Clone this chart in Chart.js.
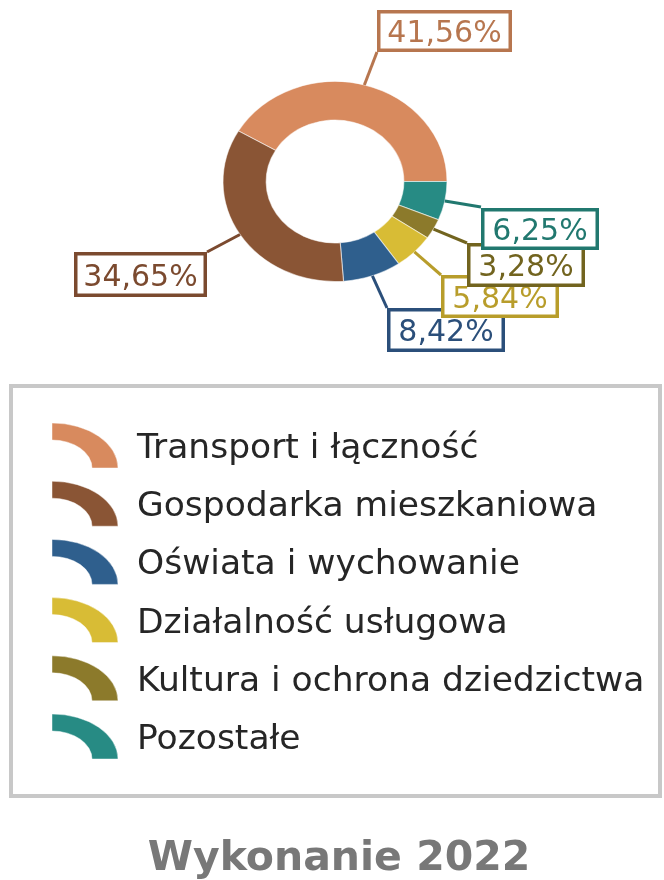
<!DOCTYPE html>
<html lang="pl">
<head>
<meta charset="utf-8">
<title>Wykonanie 2022</title>
<script src="https://cdn.jsdelivr.net/npm/chart.js@4.4.1/dist/chart.umd.min.js"></script>
<style>
  html, body { margin: 0; padding: 0; background: #ffffff; }
  #chart { display: block; }
</style>
</head>
<body>
<canvas id="chart" width="664" height="880"></canvas>
<script>
// Struktura wydatków majątkowych
const categories = [
    "Transport i łączność",
    "Gospodarka mieszkaniowa",
    "Oświata i wychowanie",
    "Działalność usługowa",
    "Kultura i ochrona dziedzictwa",
    "Pozostałe",
];
const shares = [41.56, 34.65, 8.42, 5.84, 3.28, 6.25];
const sliceColors = ["#D88A5E", "#8A5535", "#2F5F8D", "#D8BC35", "#8C7A2B", "#278B84"];
const labelColors = ["#B7764F", "#7B4A2F", "#2B4F7A", "#B89D2B", "#72641F", "#21786F"];
const chartTitle = "Wykonanie 2022";

// the ring runs clockwise: transport, then the small slices, then housing
const ringOrder = [0, 5, 4, 3, 2, 1];

const STRETCH_X = 1.12;
const FONT = '"DejaVu Sans", Verdana, sans-serif';

// label boxes [x, y, w, h] and where the leader line meets the box
const labelBoxes = [
    { box: [377, 10, 135, 42], end: [377, 52] },
    { box: [74, 252, 133, 45], end: [207, 252] },
    { box: [387, 308, 118, 44], end: [387, 308] },
    { box: [441, 275, 118, 43], end: [441, 275] },
    { box: [467, 243, 118, 44], end: [467, 243] },
    { box: [481, 208, 118, 42], end: [481, 207] },
];

const formatShare = (v) => v.toFixed(2).replace(".", ",") + "%";

// the doughnut is drawn slightly wider than tall
const ellipsePlugin = {
    id: "ellipse",
    beforeDatasetsDraw(chart) {
        const { ctx, chartArea } = chart;
        const cx = (chartArea.left + chartArea.right) / 2;
        ctx.save();
        ctx.translate(cx, 0);
        ctx.scale(STRETCH_X, 1);
        ctx.translate(-cx, 0);
    },
    afterDatasetsDraw(chart) {
        chart.ctx.restore();
    },
};

const labelsPlugin = {
    id: "shareLabels",
    afterDraw(chart) {
        const { ctx } = chart;
        const arcs = chart.getDatasetMeta(0).data;
        const anchors = [];
        arcs.forEach((arc, pos) => {
            const { x, y, startAngle, endAngle, outerRadius } = arc.getProps(
                ["x", "y", "startAngle", "endAngle", "outerRadius"], true);
            const mid = (startAngle + endAngle) / 2;
            anchors[ringOrder[pos]] = [
                x + STRETCH_X * outerRadius * Math.cos(mid),
                y + outerRadius * Math.sin(mid),
            ];
        });

        ctx.save();
        ctx.lineCap = "butt";
        categories.forEach((_, i) => {
            const [ax, ay] = anchors[i];
            const [ex, ey] = labelBoxes[i].end;
            ctx.beginPath();
            ctx.moveTo(ax, ay);
            ctx.lineTo(ex, ey);
            ctx.strokeStyle = labelColors[i];
            ctx.lineWidth = 3;
            ctx.stroke();
        });

        ctx.font = "30px " + FONT;
        ctx.textAlign = "center";
        ctx.textBaseline = "alphabetic";
        categories.forEach((_, i) => {
            const [bx, by, bw, bh] = labelBoxes[i].box;
            ctx.fillStyle = "#ffffff";
            ctx.fillRect(bx, by, bw, bh);
            ctx.strokeStyle = labelColors[i];
            ctx.lineWidth = 3.5;
            ctx.strokeRect(bx + 1.75, by + 1.75, bw - 3.5, bh - 3.5);
            ctx.fillStyle = labelColors[i];
            ctx.fillText(formatShare(shares[i]), bx + bw / 2, by + bh / 2 + 11);
        });
        ctx.restore();
    },
};

function drawRingIcon(ctx, x, yBottom, color) {
    ctx.beginPath();
    ctx.ellipse(x, yBottom, 66, 45, 0, -Math.PI / 2, 0);
    ctx.ellipse(x, yBottom, 40, 28, 0, 0, -Math.PI / 2, true);
    ctx.closePath();
    ctx.fillStyle = color;
    ctx.fill();
    ctx.strokeStyle = "rgba(255, 255, 255, 0.45)";
    ctx.lineWidth = 1;
    ctx.stroke();
}

const legendPlugin = {
    id: "ringLegend",
    afterDraw(chart) {
        const { ctx } = chart;
        ctx.save();
        ctx.strokeStyle = "#C8C8C8";
        ctx.lineWidth = 4;
        ctx.strokeRect(11, 386, 649, 410);

        ctx.font = "34.5px " + FONT;
        ctx.textAlign = "left";
        ctx.textBaseline = "alphabetic";
        categories.forEach((name, i) => {
            const rowY = 445.5 + 58.2 * i;
            drawRingIcon(ctx, 52, rowY + 22.5, sliceColors[i]);
            ctx.fillStyle = "#262626";
            ctx.fillText(name, 137, rowY + 12.5);
        });

        ctx.font = "bold 41px " + FONT;
        ctx.textAlign = "center";
        ctx.fillStyle = "#787878";
        ctx.fillText(chartTitle, 339, 870);
        ctx.restore();
    },
};

new Chart(document.getElementById("chart"), {
    type: "doughnut",
    data: {
        labels: ringOrder.map((i) => categories[i]),
        datasets: [
            {
                data: ringOrder.map((i) => shares[i]),
                backgroundColor: ringOrder.map((i) => sliceColors[i]),
                borderColor: "rgba(255, 255, 255, 0.55)",
                borderWidth: 1,
            },
        ],
    },
    options: {
        responsive: false,
        animation: false,
        events: [],
        rotation: 90 - shares[0] * 3.6,
        cutout: "61.5%",
        layout: {
            padding: { left: 6, right: 0, top: 81, bottom: 598 },
        },
        plugins: {
            legend: { display: false },
            tooltip: { enabled: false },
        },
    },
    plugins: [ellipsePlugin, labelsPlugin, legendPlugin],
});
</script>
</body>
</html>
